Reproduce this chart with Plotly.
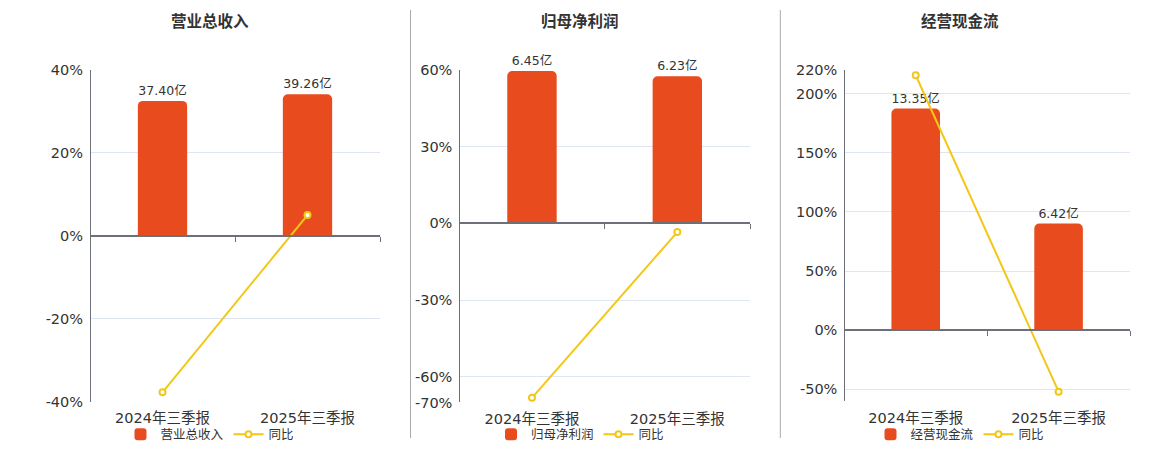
import plotly.graph_objects as go

# ---- data ----
periods = ["2024年三季报", "2025年三季报"]
titles = ["营业总收入", "归母净利润", "经营现金流"]
bar_values = [[37.40, 39.26], [6.45, 6.23], [13.35, 6.42]]   # 亿
yoy_values = [[-37.7, 4.97], [-68.2, -3.41], [215.6, -51.9]]  # %
pct_ticks = [[-40, -20, 0, 20, 40], [-70, -60, -30, 0, 30, 60], [-50, 0, 50, 100, 150, 200, 220]]
pct_ranges = [[-40, 40], [-70, 60], [-60, 220]]
bar_ranges = [[-46.1, 46.1], [-7.55, 6.50], [-4.28, 15.67]]

# ---- layout geometry (reference pixels of a 1160x450 canvas) ----
W, H = 1160, 450
panel_x = [(90, 380), (459.3, 750), (844.3, 1130)]
panel_y = [(70, 405), (70.3, 405.5), (70.5, 404.3)]
centers = [210, 580, 960]
separators = [410.5, 780.3]
Y_SCALE, Y_OFF = 0.963, 8.0   # calibration of the rendered vertical placement


def fx(px):
    return px / W


def fy(px):
    return max(0.0, min(1.0, 1 - ((px - Y_OFF) / Y_SCALE) / H))


BAR_COLOR = "#E84C1E"
LINE_COLOR = "#F2C716"
TEXT = "#333333"
AXIS = "#6E7079"
GRID = "#E0E6F1"
FONT = "DejaVu Sans, Noto Sans CJK SC, sans-serif"

fig = go.Figure()
layout = {}
annotations = []
shapes = []

for i in range(3):
    a, b = 2 * i + 1, 2 * i + 2
    xa, xb = f"x{a}" if a > 1 else "x", f"x{b}"
    ya, yb = f"y{a}" if a > 1 else "y", f"y{b}"
    lg = "legend" if i == 0 else f"legend{i + 1}"
    x0, x1 = panel_x[i]
    yt, ybm = panel_y[i]
    xdom = [fx(x0), fx(x1)]
    ydom = [fy(ybm), fy(yt)]

    fig.add_trace(go.Bar(
        x=periods, y=bar_values[i], xaxis=xa, yaxis=ya, name=titles[i],
        marker=dict(color=BAR_COLOR, line=dict(width=0)), width=0.34,
        text=bar_values[i], texttemplate="%{y:.2f}亿", textposition="outside",
        textfont=dict(size=12.5, color=TEXT), cliponaxis=False, legend=lg,
    ))
    fig.add_trace(go.Scatter(
        x=periods, y=yoy_values[i], xaxis=xb, yaxis=yb, name="同比",
        mode="lines+markers", line=dict(color=LINE_COLOR, width=2),
        marker=dict(size=6, color="white", line=dict(color=LINE_COLOR, width=2)),
        cliponaxis=False, legend=lg,
    ))

    pr = pct_ranges[i]
    zero_pos = ydom[0] + (0 - pr[0]) / (pr[1] - pr[0]) * (ydom[1] - ydom[0])

    layout[f"xaxis{a}" if a > 1 else "xaxis"] = dict(
        domain=xdom, anchor=ya, type="category", showline=False, ticks="",
        showgrid=False, zeroline=False, tickfont=dict(size=14.5, color=TEXT),
        range=[-0.5, 1.5], fixedrange=True, ticklabelstandoff=6,
    )
    layout[f"yaxis{a}" if a > 1 else "yaxis"] = dict(
        domain=ydom, anchor=xa, range=bar_ranges[i], visible=False,
        showgrid=False, zeroline=False, fixedrange=True,
    )
    layout[f"xaxis{b}"] = dict(
        overlaying=xa, anchor="free", position=zero_pos, type="category",
        range=[-0.5, 1.5], showticklabels=False, showgrid=False, zeroline=False,
        showline=True, linecolor=AXIS, linewidth=2, ticks="outside",
        tickson="boundaries", ticklen=5, tickcolor=AXIS, tickwidth=1, fixedrange=True,
    )
    layout[f"yaxis{b}"] = dict(
        overlaying=ya, anchor="free", position=xdom[0], side="left",
        range=pr, tickmode="array", tickvals=pct_ticks[i],
        ticktext=[f"{v}%" for v in pct_ticks[i]],
        tickfont=dict(size=14.5, color=TEXT), showgrid=True, gridcolor=GRID,
        gridwidth=1, zeroline=False, showline=True, linecolor=AXIS, linewidth=1,
        ticks="", ticklabelstandoff=4, fixedrange=True,
    )
    layout[lg] = dict(
        orientation="h", x=fx(centers[i]), xanchor="center", y=fy(438),
        yanchor="middle", font=dict(size=12.5, color=TEXT), bgcolor="rgba(0,0,0,0)",
        itemwidth=30, tracegroupgap=0,
    )
    annotations.append(dict(
        text=f"<b>{titles[i]}</b>", x=fx(centers[i]), y=fy(22),
        xref="paper", yref="paper", showarrow=False, xanchor="center",
        yanchor="middle", font=dict(size=15.5, color=TEXT),
    ))

for sx in separators:
    shapes.append(dict(type="line", xref="paper", yref="paper",
                       x0=fx(sx), x1=fx(sx), y0=fy(10), y1=fy(443),
                       line=dict(color="#AAAAAA", width=1)))

fig.update_layout(
    width=W, height=H, margin=dict(l=0, r=0, t=0, b=0),
    paper_bgcolor="white", plot_bgcolor="white",
    font=dict(family=FONT, color=TEXT),
    barcornerradius=5, annotations=annotations, shapes=shapes,
    **layout,
)

post = (
    "document.documentElement.style.margin='0';"
    "document.body.style.margin='0';document.body.style.overflow='hidden';"
)
fig.write_html("out.html", config={"displayModeBar": False}, post_script=post)
